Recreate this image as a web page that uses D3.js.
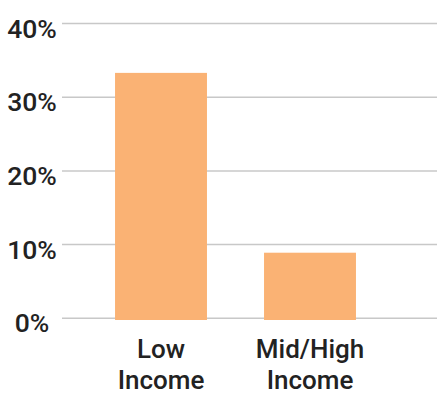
<!DOCTYPE html>
<html>
<head>
<meta charset="utf-8">
<script src="https://cdn.jsdelivr.net/npm/d3@7"></script>
<style>
  html, body { margin: 0; padding: 0; background: #fff; }
  svg { display: block; }
  text { font-family: Roboto, "Noto Sans", sans-serif; fill: #222; font-weight: 500; }
</style>
</head>
<body>
<svg id="chart" width="437" height="393"></svg>
<script>
// Share of population, by income group
const categories = ["Low Income", "Mid/High Income"];
const categoryLines = [["Low", "Income"], ["Mid/High", "Income"]];
const values = [0.333, 0.089];
const yTicks = [0, 0.1, 0.2, 0.3, 0.4];
const yTickLabels = ["0%", "10%", "20%", "30%", "40%"];

const W = 437, H = 393;
const svg = d3.select("#chart");

const y = d3.scaleLinear().domain([0, 0.4]).range([318.3, 23.5]);
const x = d3.scaleBand()
  .domain(categories)
  .range([62, 409])
  .paddingInner(0.383)
  .paddingOuter(0.356);

// horizontal gridlines
svg.append("g")
  .selectAll("line")
  .data(yTicks)
  .join("line")
  .attr("x1", 62)
  .attr("x2", W)
  .attr("y1", d => y(d))
  .attr("y2", d => y(d))
  .attr("stroke", "#c8c8c8")
  .attr("stroke-width", 1.5);

// y tick labels
svg.append("g")
  .selectAll("text")
  .data(yTicks)
  .join("text")
  .attr("x", 32)
  .attr("y", d => y(d) + 14)
  .attr("text-anchor", "middle")
  .attr("font-size", 26.5)
  .text((d, i) => yTickLabels[i]);

// bars
svg.append("g")
  .selectAll("rect")
  .data(values)
  .join("rect")
  .attr("x", (d, i) => x(categories[i]))
  .attr("width", x.bandwidth())
  .attr("y", d => y(d))
  .attr("height", d => y(0) - y(d) + 1.7)
  .attr("fill", "#fab274");

// category labels (two lines each)
const cat = svg.append("g")
  .selectAll("text")
  .data(categories)
  .join("text")
  .attr("text-anchor", "middle")
  .attr("font-size", 26)
  .attr("x", d => x(d) + x.bandwidth() / 2)
  .attr("y", 358);
cat.selectAll("tspan")
  .data((d, i) => categoryLines[i])
  .join("tspan")
  .attr("x", function () { return d3.select(this.parentNode).attr("x"); })
  .attr("dy", (d, j) => j === 0 ? 0 : 30.5)
  .text(d => d);
</script>
</body>
</html>
